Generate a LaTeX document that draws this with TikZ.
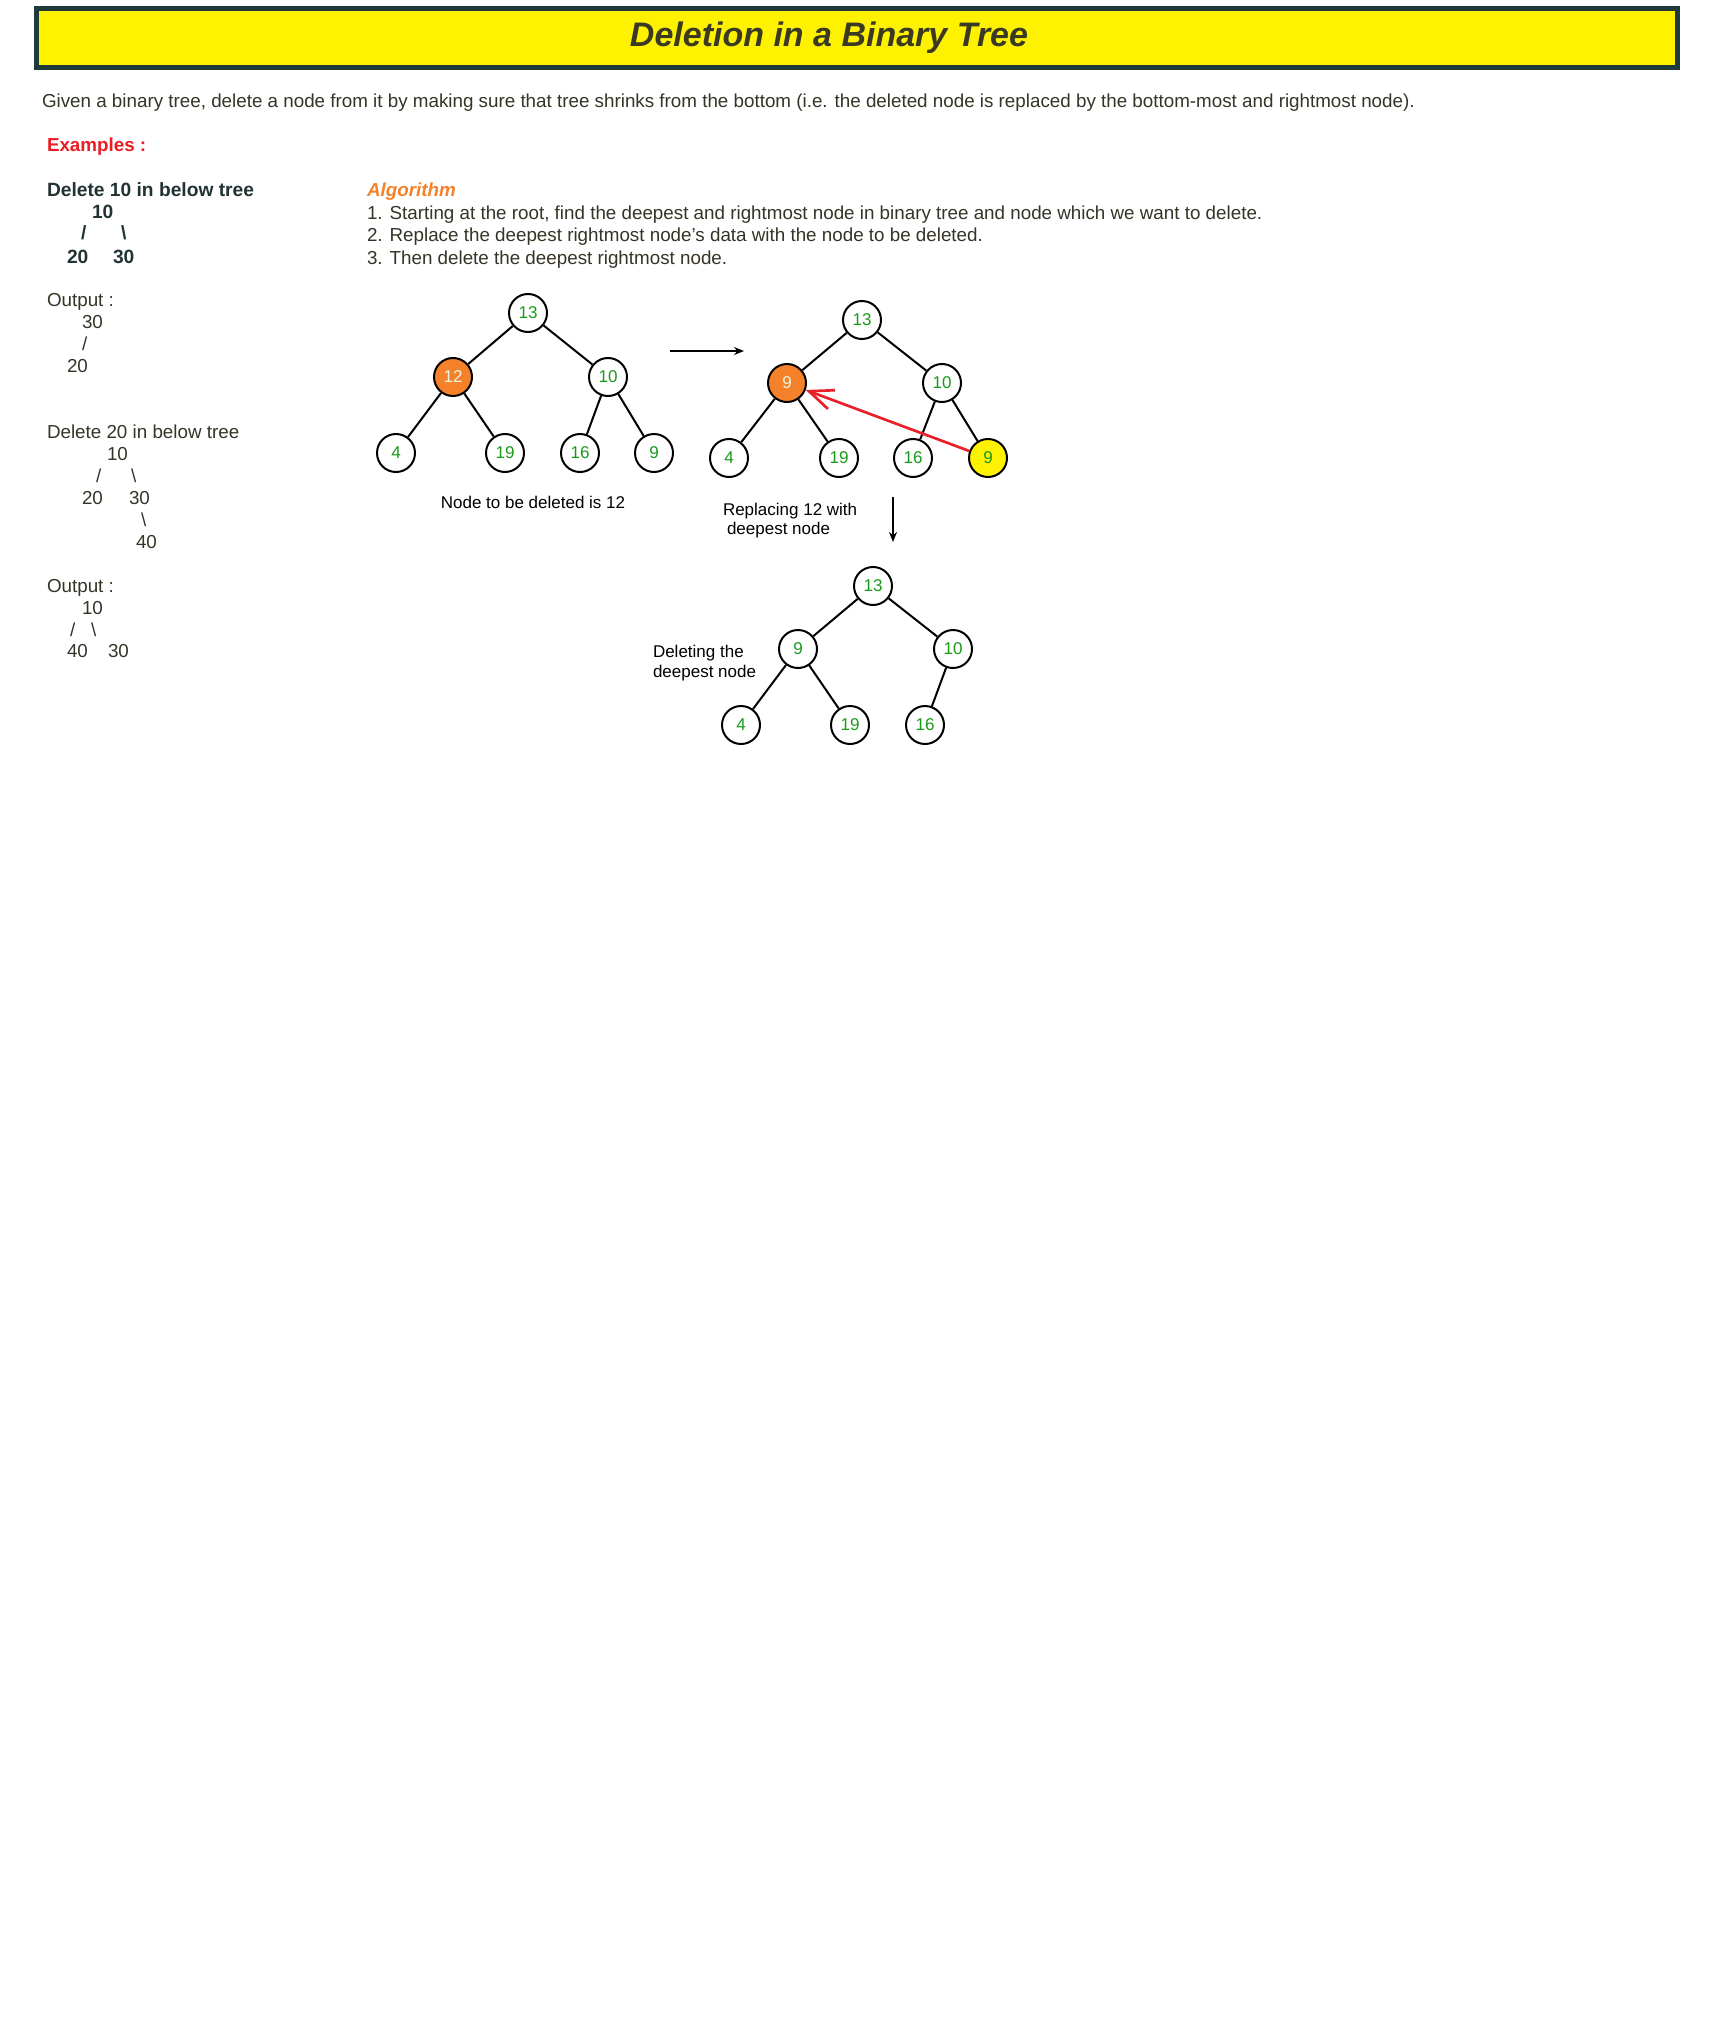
\documentclass[tikz,border=0pt]{standalone}
\usepackage{fontspec}
\setmainfont{Liberation Sans}
\usetikzlibrary{arrows.meta}
\definecolor{ttlyellow}{HTML}{FFF200}
\definecolor{ttlborder}{HTML}{1E3A3A}
\definecolor{ttltext}{HTML}{3A3A22}
\definecolor{bodytext}{HTML}{363426}
\definecolor{boldtext}{HTML}{213333}
\definecolor{exred}{HTML}{ED1C24}
\definecolor{algorange}{HTML}{F5822A}
\definecolor{numgreen}{HTML}{1A9A1A}
\definecolor{nodeorange}{HTML}{F5822A}
\definecolor{nodeyellow}{HTML}{FFF200}
\definecolor{arrred}{HTML}{E8202A}
\definecolor{paletxt}{HTML}{EAF6DC}
\begin{document}
\begin{tikzpicture}[x=0.75pt,y=-0.75pt,
  txt/.style={anchor=base west, inner sep=0pt, outer sep=0pt, font=\fontsize{14.1}{16}\selectfont, text=bodytext},
  btxt/.style={txt, font=\fontsize{14.4}{16}\selectfont\bfseries, text=boldtext},
  captxt/.style={anchor=base west, inner sep=0pt, outer sep=0pt, font=\fontsize{12.75}{15}\selectfont, text=black},
  tnode/.style={circle, draw=black, line width=1.5pt, fill=white, minimum size=28.5pt, inner sep=0pt, text=numgreen, font=\fontsize{12.8}{14}\selectfont},
  delnode/.style={tnode, fill=nodeorange, text=paletxt},
  deepnode/.style={tnode, fill=nodeyellow},
  tedge/.style={line width=1.5pt, draw=black},
  flowarrow/.style={line width=1.5pt, draw=black, -{Stealth[length=7.5pt,width=6pt]}},
  redarrow/.style={line width=2pt, draw=arrred, -{Straight Barb[length=18pt,width=15pt]}}]

\useasboundingbox (0,0) rectangle (1735,2019);
\fill[white] (0,0) rectangle (1735,2019);

% title
\draw[line width=3.75pt, draw=ttlborder, fill=ttlyellow] (36.5,8.5) rectangle (1677.5,67.5);
\node[anchor=base, inner sep=0pt, text=ttltext, font=\fontsize{25.5}{30}\selectfont\bfseries\itshape] (title) at (829,47) {Deletion in a Binary Tree};

\node[txt] (intro) at (42,108) {Given a binary tree, delete a node from it by making sure that tree shrinks from the bottom (i.e. the deleted node is replaced by the bottom-most and rightmost node).};

\node[txt, font=\fontsize{14.1}{16}\selectfont\bfseries, text=exred] (examples) at (47,152) {Examples :};

% example 1
\node[btxt] (ex1h) at (47,197) {Delete 10 in below tree};
\node[btxt] (ex1a) at (92,219) {10};
\node[btxt] (ex1b) at (81,240) {/};
\node[btxt] (ex1c) at (121,240) {\textbackslash};
\node[btxt] (ex1d) at (67,263) {20};
\node[btxt] (ex1e) at (113,263) {30};
\node[txt] (out1h) at (47,306) {Output :};
\node[txt] (out1a) at (82,328) {30};
\node[txt] (out1b) at (82,350) {/};
\node[txt] (out1c) at (67,372) {20};

% example 2
\node[txt] (ex2h) at (47,438) {Delete 20 in below tree};
\node[txt] (ex2a) at (107,460) {10};
\node[txt] (ex2b) at (96,482) {/};
\node[txt] (ex2c) at (131,482) {\textbackslash};
\node[txt] (ex2d) at (82,504) {20};
\node[txt] (ex2e) at (129,504) {30};
\node[txt] (ex2f) at (141,526) {\textbackslash};
\node[txt] (ex2g) at (136,548) {40};
\node[txt] (out2h) at (47,592) {Output :};
\node[txt] (out2a) at (82,614) {10};
\node[txt] (out2b) at (70,636) {/};
\node[txt] (out2c) at (91,636) {\textbackslash};
\node[txt] (out2d) at (67,657) {40};
\node[txt] (out2e) at (108,657) {30};

% algorithm
\node[txt, font=\fontsize{14.1}{16}\selectfont\bfseries\itshape, text=algorange] (algo) at (367,197) {Algorithm};
\node[txt] (alg1) at (367,220) {1. Starting at the root, find the deepest and rightmost node in binary tree and node which we want to delete.};
\node[txt] (alg2) at (367,242) {2. Replace the deepest rightmost node’s data with the node to be deleted.};
\node[txt] (alg3) at (367,264) {3. Then delete the deepest rightmost node.};

% tree 1
\node[tnode] (a13) at (528,313) {13};
\node[delnode] (a12) at (453,377) {12};
\node[tnode] (a10) at (608,377) {10};
\node[tnode] (a4) at (396,453) {4};
\node[tnode] (a19) at (505,453) {19};
\node[tnode] (a16) at (580,453) {16};
\node[tnode] (a9) at (654,453) {9};
\draw[tedge] (a13) -- (a12);
\draw[tedge] (a13) -- (a10);
\draw[tedge] (a12) -- (a4);
\draw[tedge] (a12) -- (a19);
\draw[tedge] (a10) -- (a16);
\draw[tedge] (a10) -- (a9);
\node[anchor=base, inner sep=0pt, font=\fontsize{12.75}{15}\selectfont] (cap1) at (533,508) {Node to be deleted is 12};

% arrow 1
\coordinate (arr1s) at (670,351);
\coordinate (arr1e) at (744,351);
\draw[flowarrow] (arr1s) -- (arr1e);

% tree 2
\node[tnode] (b13) at (862,320) {13};
\node[delnode] (b9l) at (787,383) {9};
\node[tnode] (b10) at (942,383) {10};
\node[tnode] (b4) at (729,458) {4};
\node[tnode] (b19) at (839,458) {19};
\node[tnode] (b16) at (913,458) {16};
\node[deepnode] (b9y) at (988,458) {9};
\draw[tedge] (b13) -- (b9l);
\draw[tedge] (b13) -- (b10);
\draw[tedge] (b9l) -- (b4);
\draw[tedge] (b9l) -- (b19);
\draw[tedge] (b10) -- (b16);
\draw[tedge] (b10) -- (b9y);
\draw[redarrow] (b9y) -- (b9l);
\node[captxt] (cap2a) at (723,515) {Replacing 12 with};
\node[captxt] (cap2b) at (727,534) {deepest node};

% arrow 2
\coordinate (arr2s) at (893,497);
\coordinate (arr2e) at (893,542);
\draw[flowarrow] (arr2s) -- (arr2e);

% tree 3
\node[tnode] (c13) at (873,586) {13};
\node[tnode] (c9) at (798,649) {9};
\node[tnode] (c10) at (953,649) {10};
\node[tnode] (c4) at (741,725) {4};
\node[tnode] (c19) at (850,725) {19};
\node[tnode] (c16) at (925,725) {16};
\draw[tedge] (c13) -- (c9);
\draw[tedge] (c13) -- (c10);
\draw[tedge] (c9) -- (c4);
\draw[tedge] (c9) -- (c19);
\draw[tedge] (c10) -- (c16);
\node[captxt] (cap3a) at (653,657) {Deleting the};
\node[captxt] (cap3b) at (653,677) {deepest node};
\end{tikzpicture}
\end{document}
